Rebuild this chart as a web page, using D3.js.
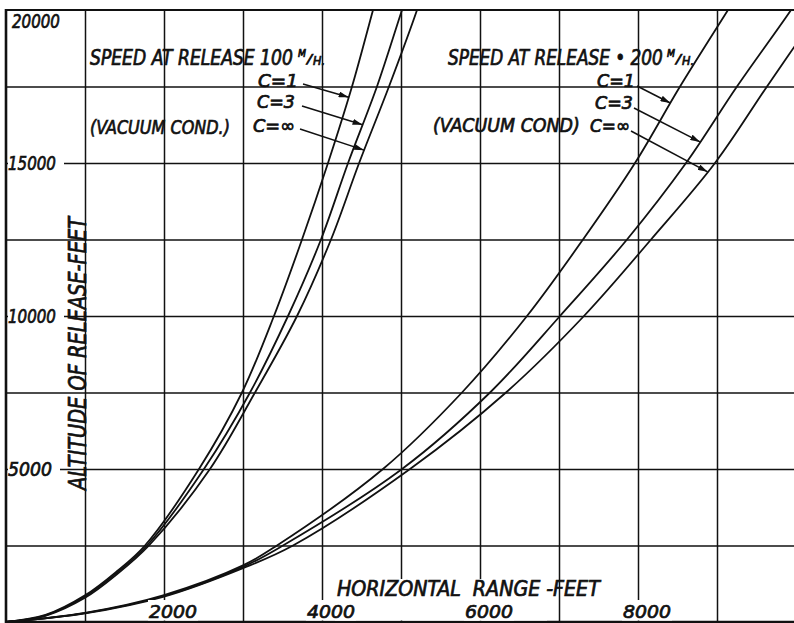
<!DOCTYPE html>
<html>
<head>
<meta charset="utf-8">
<script src="https://cdn.jsdelivr.net/npm/d3@7"></script>
<style>
  html, body { margin: 0; padding: 0; background: #fff; }
  svg { display: block; }
  text {
    font-family: "DejaVu Sans Condensed", "Liberation Sans Narrow", "DejaVu Sans", sans-serif;
    font-style: italic;
    fill: #111;
    stroke: #111;
    stroke-width: 0.7px;
    white-space: pre;
  }
</style>
</head>
<body>
<svg id="chart" width="794" height="623"></svg>
<script>
// Bomb trajectories: horizontal range travelled vs. altitude of release,
// for two release speeds and three ballistic coefficients (C = ∞ is vacuum).

const rangeTicks = [2000, 4000, 6000, 8000];
const altitudeTicks = [5000, 10000, 15000, 20000];
const rangeGrid = [1000, 2000, 3000, 4000, 5000, 6000, 7000, 8000, 9000, 10000];
const altitudeGrid = [2500, 5000, 7500, 10000, 12500, 15000, 17500];

// [horizontal range (ft), altitude of release (ft)]
const speed100_c1 = [[0,0],[500,230],[1000,870],[1400,1650],[1759,2500],[2443,5000],[2987,7500],[3392,10000],[3747,12500],[4076,15000],[4380,17500],[4646,20000],[4700,20500]];
const speed100_c3 = [[0,0],[500,215],[1000,830],[1400,1600],[1785,2500],[2506,5000],[3089,7500],[3570,10000],[3987,12500],[4330,15000],[4696,17500],[5013,20000],[5080,20500]];
const speed100_cInf = [[0,0],[500,200],[1000,790],[1400,1550],[1810,2500],[2582,5000],[3152,7500],[3684,10000],[4114,12500],[4470,15000],[4848,17500],[5203,20000],[5265,20500]];

const speed200_c1 = [[0,0],[1000,300],[2000,880],[3000,1850],[3430,2500],[4772,5000],[5772,7500],[6595,10000],[7304,12500],[7962,15000],[8532,17500],[9139,20000],[9260,20500]];
const speed200_c3 = [[0,0],[1000,290],[2000,850],[3000,1800],[3506,2500],[5013,5000],[6127,7500],[7013,10000],[7861,12500],[8608,15000],[9253,17500],[9937,20000],[10060,20500]];
const speed200_cInf = [[0,0],[1000,280],[2000,830],[3000,1760],[3633,2500],[5114,5000],[6329,7500],[7316,10000],[8165,12500],[8975,15000],[9633,17500],[10300,20000]];

const series = [speed100_c1, speed100_c3, speed100_cInf, speed200_c1, speed200_c3, speed200_cInf];

// Curve labels: text, label anchor and width, altitude where the leader arrow meets its curve
const curveLabels = [
  { text: "C=1", x: 258, y: 87, len: 40, from: [303, 84], curve: speed100_c1, alt: 17150 },
  { text: "C=3", x: 257, y: 108, len: 38, from: [302, 106], curve: speed100_c3, alt: 16250 },
  { text: "C=\u221e", x: 253, y: 132, len: 42, from: [300, 129], curve: speed100_cInf, alt: 15420 },
  { text: "C=1", x: 597, y: 87, len: 38, from: [637, 86], curve: speed200_c1, alt: 16960 },
  { text: "C=3", x: 595, y: 109, len: 38, from: [634, 108], curve: speed200_c3, alt: 15690 },
  { text: "C=\u221e", x: 590, y: 132, len: 40, from: [631, 131], curve: speed200_cInf, alt: 14710 }
];

const svg = d3.select("#chart");
const W = 794, H = 623;

const x = d3.scaleLinear().domain([0, 10000]).range([6, 796]);
const y = d3.scaleLinear().domain([0, 20000]).range([622, 10]);

const ink = "#111";

// lettering squeezed horizontally to a given width (narrow hand lettering)
function letter(parent, str, x0, y0, size, width, opts = {}) {
  const t = parent.append("text").attr("font-size", size).text(str);
  if (opts.anchor) t.attr("text-anchor", opts.anchor);
  const s = width / t.node().getComputedTextLength();
  const rot = opts.rotate ? ` rotate(${opts.rotate})` : "";
  t.attr("transform", `translate(${x0},${y0})${rot} scale(${s},1)`);
  return t;
}

// grid
svg.append("g")
  .attr("transform", `translate(0,${y(0)})`)
  .call(d3.axisBottom(x).tickValues(rangeGrid).tickSize(-(y(0) - y(20000))).tickSizeOuter(0).tickFormat(""))
  .call(g => g.select(".domain").remove())
  .selectAll("line").attr("stroke", ink).attr("stroke-width", 1.5);

svg.append("g")
  .attr("transform", `translate(${x(0)},0)`)
  .call(d3.axisLeft(y).tickValues(altitudeGrid).tickSize(-(x(10000) - x(0))).tickSizeOuter(0).tickFormat(""))
  .call(g => g.select(".domain").remove())
  .selectAll("line").attr("stroke", ink).attr("stroke-width", 1.5);

// frame
svg.append("line").attr("x1", x(0)).attr("x2", x(0)).attr("y1", y(20000) - 1).attr("y2", y(0) + 1)
  .attr("stroke", ink).attr("stroke-width", 2.6);
svg.append("line").attr("x1", x(0)).attr("x2", W).attr("y1", y(0)).attr("y2", y(0))
  .attr("stroke", ink).attr("stroke-width", 2.6);
svg.append("line").attr("x1", x(0)).attr("x2", W).attr("y1", y(20000)).attr("y2", y(20000))
  .attr("stroke", ink).attr("stroke-width", 2);

// trajectories
svg.append("clipPath").attr("id", "plot-area")
  .append("rect").attr("x", x(0)).attr("y", y(20000)).attr("width", x(10000) - x(0)).attr("height", y(0) - y(20000));

const line = d3.line()
  .x(d => x(d[0]))
  .y(d => y(d[1]))
  .curve(d3.curveCatmullRom.alpha(0.5));

svg.append("g").attr("clip-path", "url(#plot-area)")
  .selectAll("path").data(series).join("path")
  .attr("d", line)
  .attr("fill", "none")
  .attr("stroke", ink)
  .attr("stroke-width", 1.8);

// cleared patches of grid under the lettering
const clear = svg.append("g").attr("fill", "#fff");
altitudeTicks.filter(v => v !== 20000).forEach(v => {
  const len = String(v).length === 5 ? 48 : 44;
  clear.append("rect").attr("x", x(0) + 2).attr("y", y(v) - 3).attr("width", len + 8).attr("height", 6);
});
rangeTicks.forEach(v => {
  clear.append("rect").attr("x", x(v) - 16).attr("y", 600).attr("width", 50).attr("height", y(0) - 1.5 - 600);
});
clear.append("rect").attr("x", 335).attr("y", 579).attr("width", 212).attr("height", y(0) - 1.5 - 579);

// altitude labels
altitudeTicks.forEach(v => {
  const top = v === 20000;
  const len = String(v).length === 5 ? 48 : 44;
  letter(svg, String(v), top ? 12 : 8, top ? y(v) + 18 : y(v) + 7, 20, len);
});

// range labels
rangeTicks.forEach(v => {
  letter(svg, String(v), x(v) + 9, 618, 18.5, 48, { anchor: "middle" });
});

// axis titles
letter(svg, "ALTITUDE OF RELEASE-FEET", 86, (217 + 490) / 2, 24, 273, { anchor: "middle", rotate: -90 });
letter(svg, "HORIZONTAL  RANGE -FEET", 337, 595.5, 21, 263);

// speed headings with M/H. unit
function heading(text, x0, len, unitX) {
  letter(svg, text, x0, 65, 21, len);
  letter(svg, "M", unitX, 57, 10, 8);
  letter(svg, "/", unitX + 9, 63, 13, 5);
  letter(svg, "H.", unitX + 15, 65, 12, 12);
}
heading("SPEED AT RELEASE 100", 90, 203, 298);
heading("SPEED AT RELEASE \u2022 200", 448, 215, 667);

letter(svg, "(VACUUM COND.)", 90, 134, 20, 140);
letter(svg, "(VACUUM COND)", 433, 132, 20, 147);

// leader arrows
svg.append("defs").append("marker")
  .attr("id", "tip").attr("viewBox", "0 0 10 6")
  .attr("refX", 10).attr("refY", 3)
  .attr("markerWidth", 10).attr("markerHeight", 6)
  .attr("markerUnits", "userSpaceOnUse")
  .attr("orient", "auto")
  .append("path").attr("d", "M0,0 L10,3 L0,6 Z").attr("fill", ink);

function rangeAtAltitude(curve, alt) {
  for (let i = 1; i < curve.length; i++) {
    const [x0, y0] = curve[i - 1], [x1, y1] = curve[i];
    if (alt >= y0 && alt <= y1) return x0 + (x1 - x0) * (alt - y0) / (y1 - y0);
  }
  return curve[curve.length - 1][0];
}

curveLabels.forEach(l => {
  letter(svg, l.text, l.x, l.y, 18, l.len);
  svg.append("line")
    .attr("x1", l.from[0]).attr("y1", l.from[1])
    .attr("x2", x(rangeAtAltitude(l.curve, l.alt))).attr("y2", y(l.alt))
    .attr("stroke", ink).attr("stroke-width", 1.5)
    .attr("marker-end", "url(#tip)");
});
</script>
</body>
</html>
